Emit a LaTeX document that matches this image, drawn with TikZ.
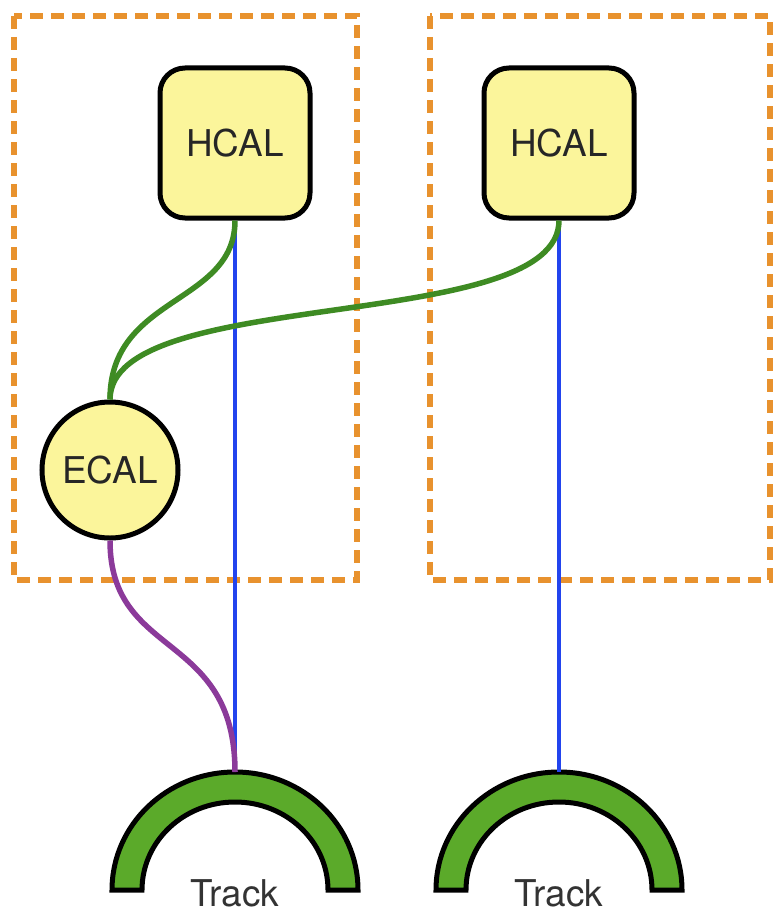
\documentclass[tikz,border=0pt]{standalone}
\usepackage{fontspec}
\setmainfont{TeX Gyre Heros}
\usetikzlibrary{positioning}
\definecolor{boxorange}{HTML}{E8922E}
\definecolor{calyellow}{HTML}{FBF59B}
\definecolor{trackgreen}{HTML}{5BAA2A}
\definecolor{linkgreen}{HTML}{3E8B23}
\definecolor{linkblue}{HTML}{2244EE}
\definecolor{linkpurple}{HTML}{8B3A9A}

\begin{document}
\begin{tikzpicture}[
    x=0.2mm, y=-0.2mm,
    region/.style={draw=boxorange, line width=1.2mm, dash pattern=on 2.6mm off 1.6mm},
    hcal/.style={draw, fill=calyellow, line width=1mm, rounded corners=5mm,
        minimum size=3cm, font=\fontsize{21}{24}\selectfont, text=black!85},
    ecal/.style={draw, fill=calyellow, line width=1mm, circle,
        minimum size=2.72cm, inner sep=0pt, font=\fontsize{21}{24}\selectfont, text=black!85},
    arch/.style={draw, fill=trackgreen, line width=1mm},
    label text/.style={font=\fontsize{21}{24}\selectfont, text=black!80},
    glink/.style={draw=linkgreen, line width=1.1mm},
    blink/.style={draw=linkblue, line width=0.9mm},
    plink/.style={draw=linkpurple, line width=1.1mm}
]
\useasboundingbox (0,0) rectangle (773,912);

% regions
\draw[region] (14,16) rectangle (357,580);
\draw[region] (430,16) rectangle (770,580);

% calorimeters
\node[hcal] (h1) at (235,143) {HCAL};
\node[hcal] (h2) at (559,143) {HCAL};
\node[ecal] (e1) at (110,470) {ECAL};

% tracks
\draw[arch] (112,890) arc[start angle=180, end angle=360, x radius=123, y radius=118]
    -- (328,890) arc[start angle=360, end angle=180, x radius=93, y radius=88] -- cycle;
\draw[arch] (436,890) arc[start angle=180, end angle=360, x radius=123, y radius=118]
    -- (652,890) arc[start angle=360, end angle=180, x radius=93, y radius=88] -- cycle;
\coordinate (t1) at (235,772);
\coordinate (t2) at (559,772);
\node[label text] (l1) at (235,893) {Track};
\node[label text] (l2) at (559,893) {Track};

% links
\path[blink] (h1.south) -- (t1);
\path[blink] (h2.south) -- (t2);
\path[glink] (h1.south) .. controls (235,305) and (110,295) .. (e1.north);
\path[glink] (h2.south) .. controls (559,335) and (110,285) .. (e1.north);
\path[plink] (e1.south) .. controls (110,660) and (235,630) .. (t1);
\end{tikzpicture}
\end{document}
